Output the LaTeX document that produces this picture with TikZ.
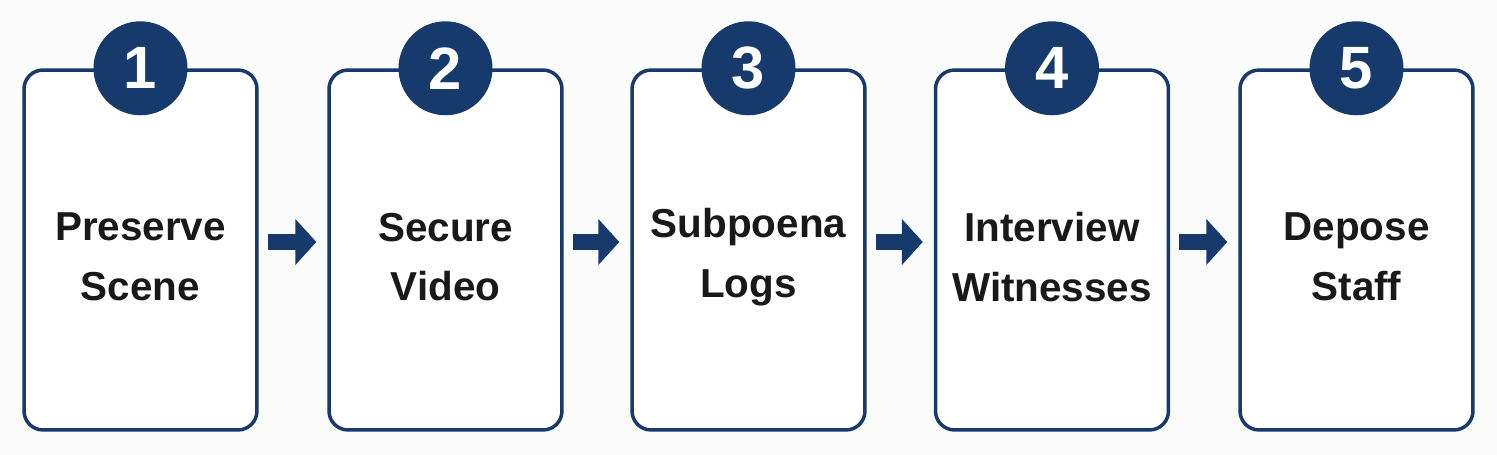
\documentclass[tikz,border=0pt]{standalone}
\usepackage{fontspec}
\setmainfont{Liberation Sans}
\usetikzlibrary{arrows.meta}
\definecolor{navy}{HTML}{173A6C}
\begin{document}
\begin{tikzpicture}[x=0.02cm,y=-0.02cm,
  box/.style={draw=navy,line width=0.07cm,rounded corners=0.38cm,minimum width=4.66cm,minimum height=7.2cm,fill=white},
  lbl/.style={font=\fontsize{23}{34}\selectfont\bfseries,text=black!90,align=center},
  num/.style={circle,fill=navy,minimum size=1.88cm,inner sep=0,text=white,font=\fontsize{34}{34}\selectfont\bfseries},
  flow/.style={navy,line width=0.32cm,-{Triangle[length=0.42cm 0,width=0.9cm 0]},shorten <=0.18cm,shorten >=0.22cm}]
\fill[white!97!gray] (0,0) rectangle (1497,455);
\useasboundingbox (0,0) rectangle (1497,455);
\node[box] (b1) at (140.5,250) {};
\node[box] (b2) at (445.5,250) {};
\node[box] (b3) at (748.5,250) {};
\node[box] (b4) at (1052,250) {};
\node[box] (b5) at (1356.5,250) {};
\node[lbl] (t1) at (140.5,257) {Preserve\\Scene};
\node[lbl] (t2) at (445.5,257) {Secure\\Video};
\node[lbl] (t3) at (748.5,257) {Subpoena\\Logs};
\node[lbl] (t4) at (1052,257) {Interview\\Witnesses};
\node[lbl] (t5) at (1356.5,257) {Depose\\Staff};
\foreach \i in {1,...,5} {\node[num] (n\i) at (b\i.north) {\i};}
\draw[flow] (b1.east |- 0,242) -- (b2.west |- 0,242);
\draw[flow] (b2.east |- 0,242) -- (b3.west |- 0,242);
\draw[flow] (b3.east |- 0,242) -- (b4.west |- 0,242);
\draw[flow] (b4.east |- 0,242) -- (b5.west |- 0,242);
\end{tikzpicture}
\end{document}
